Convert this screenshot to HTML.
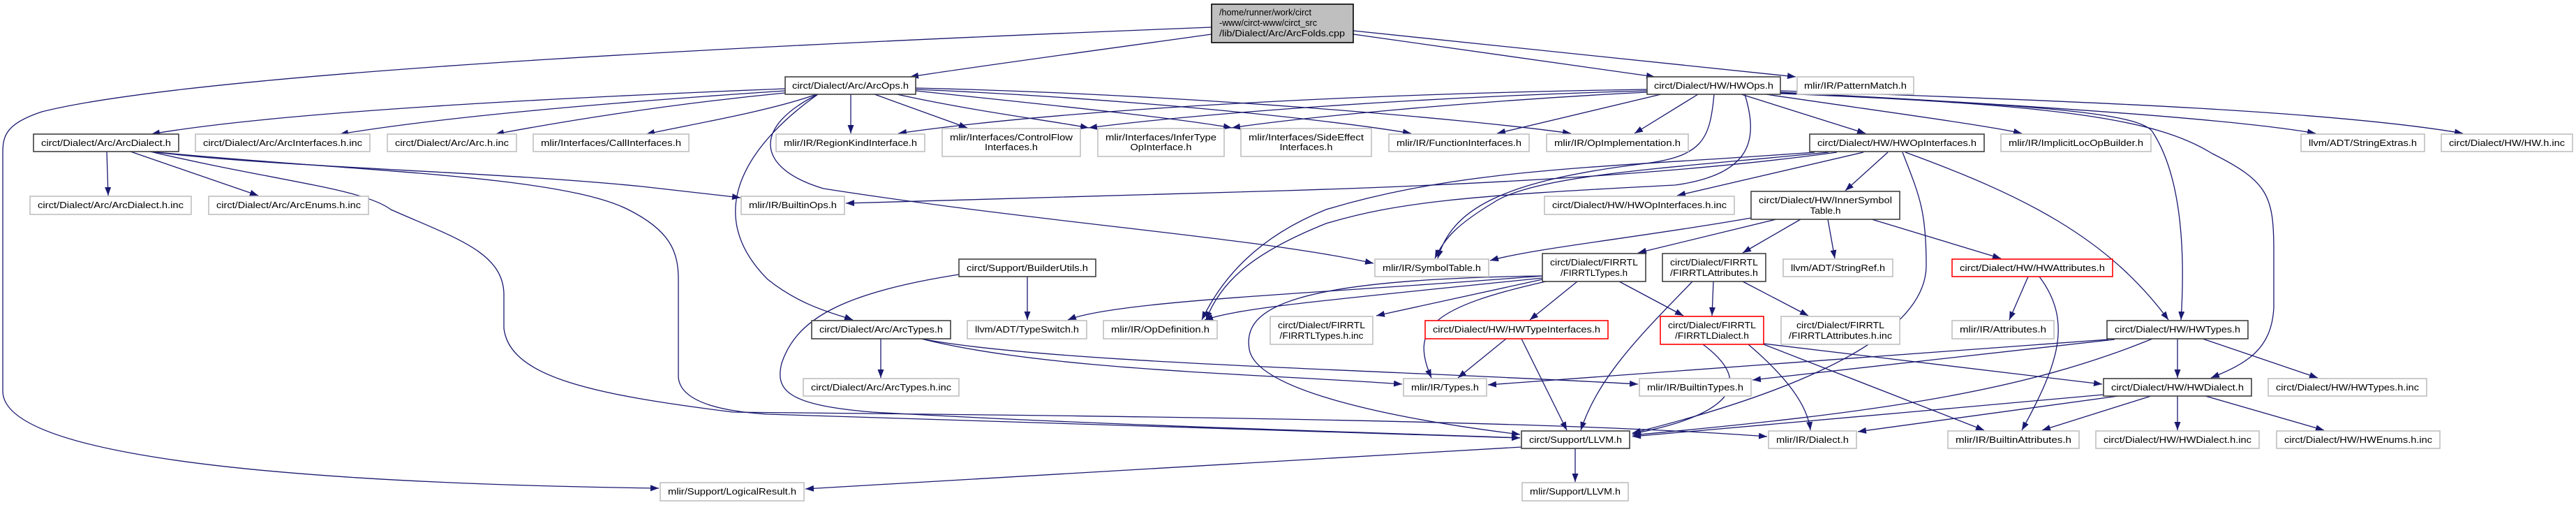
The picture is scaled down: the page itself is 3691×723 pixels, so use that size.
<!DOCTYPE html>
<html><head><meta charset="utf-8"><style>
html,body{margin:0;padding:0;background:#fff;}
svg{display:block;}
text{font-family:"Liberation Sans",sans-serif;font-size:13px;fill:#000;}
.e{fill:none;stroke:#191970;stroke-width:1.3;}
.b{fill:#fff;stroke:#404040;stroke-width:1.6;}
.g{fill:#fff;stroke:#bfbfbf;stroke-width:1.6;}
.r{fill:#fff;stroke:#ff0000;stroke-width:1.6;}
</style></head><body>
<svg width="3691" height="723" viewBox="0 0 3691 723" xmlns="http://www.w3.org/2000/svg">
<defs><marker id="a" markerUnits="userSpaceOnUse" markerWidth="13" markerHeight="9" refX="12" refY="4.5" orient="auto"><path d="M0,0 L12,4.5 L0,9 z" fill="#191970"/></marker></defs>
<g class="e" marker-end="url(#a)">
<path marker-end="url(#a)" d="M1736,49 C1550,75 1400,95 1304,110"/>
<path marker-end="url(#a)" d="M1939,49 C2100,72 2250,92 2371,110"/>
<path marker-end="url(#a)" d="M1939,44 C2200,70 2450,96 2573,110"/>
<path marker-end="url(#a)" d="M1736,39 C1200,60 300,100 60,160 C0,180 4,200 4,230 L4,560 C4,640 300,690 944,699"/>
<path marker-end="url(#a)" d="M1125,127 C800,140 400,160 217,192"/>
<path marker-end="url(#a)" d="M1125,130 C900,145 650,165 487,192"/>
<path marker-end="url(#a)" d="M1125,133 C950,150 800,175 710,192"/>
<path marker-end="url(#a)" d="M1170,135 C1100,160 980,180 926,192"/>
<path marker-end="url(#a)" d="M1219,135 L1219,191"/>
<path marker-end="url(#a)" d="M1253,135 L1386,183"/>
<path marker-end="url(#a)" d="M1285,135 C1400,160 1500,172 1560,183"/>
<path marker-end="url(#a)" d="M1312,130 C1500,150 1680,168 1765,183"/>
<path marker-end="url(#a)" d="M1312,128 C1600,140 1900,170 2022,191"/>
<path marker-end="url(#a)" d="M1312,126 C1700,135 2100,170 2251,191"/>
<path marker-end="url(#a)" d="M1172,135 C1080,180 1080,240 1180,270 C1500,320 1800,340 1968,377"/>
<path marker-end="url(#a)" d="M1172,135 C1080,200 1000,300 1100,400 C1150,440 1200,450 1222,458"/>
<path marker-end="url(#a)" d="M153,217 L155,280"/>
<path marker-end="url(#a)" d="M187,217 L370,280"/>
<path marker-end="url(#a)" d="M215,217 C400,240 700,245 920,267 L1061,283"/>
<path marker-end="url(#a)" d="M215,217 C500,245 800,250 900,300 C960,330 972,360 972,400 L972,540 C975,580 1050,590 1100,593 L2178,627"/>
<path marker-end="url(#a)" d="M215,217 C400,260 520,270 560,300 C650,340 720,360 722,420 L722,470 C730,540 850,565 1050,590 C1500,595 2200,600 2532,625"/>
<path marker-end="url(#a)" d="M2360,128 C1900,135 1500,160 1287,191"/>
<path marker-end="url(#a)" d="M2360,130 C2000,140 1700,165 1560,183"/>
<path marker-end="url(#a)" d="M2360,132 C2100,145 1850,170 1765,183"/>
<path marker-end="url(#a)" d="M2380,135 L2145,191"/>
<path marker-end="url(#a)" d="M2433,135 L2342,191"/>
<path marker-end="url(#a)" d="M2495,135 L2673,191"/>
<path marker-end="url(#a)" d="M2530,135 C2700,160 2850,180 2897,191"/>
<path marker-end="url(#a)" d="M2551,132 C2900,150 3200,170 3318,191"/>
<path marker-end="url(#a)" d="M2551,130 C3000,145 3350,160 3529,191"/>
<path marker-end="url(#a)" d="M2551,133 C2900,150 3070,160 3085,190 C3130,260 3130,380 3125,458"/>
<path marker-end="url(#a)" d="M2551,134 C2950,150 3090,170 3170,220 C3250,260 3258,280 3258,360 L3258,440 C3255,500 3220,520 3168,541"/>
<path marker-end="url(#a)" d="M2632,218 C2400,250 2100,265 1840,273 L1212,291"/>
<path marker-end="url(#a)" d="M2500,135 C2520,200 2510,250 2400,265 C2100,280 2000,290 1900,320 C1800,360 1750,400 1728,458"/>
<path marker-end="url(#a)" d="M2456,135 C2450,200 2440,225 2350,235 C2150,260 2080,300 2060,370"/>
<path marker-end="url(#a)" d="M2670,218 L2403,280"/>
<path marker-end="url(#a)" d="M2705,218 L2644,273"/>
<path marker-end="url(#a)" d="M2730,218 C2900,280 3020,340 3107,458"/>
<path marker-end="url(#a)" d="M2726,218 C2750,280 2760,300 2760,380 C2760,500 2500,580 2339,620"/>
<path marker-end="url(#a)" d="M2620,218 C2400,240 2200,250 2140,290 C2090,320 2070,340 2056,370"/>
<path marker-end="url(#a)" d="M2600,218 C2300,240 2100,240 1900,300 C1800,340 1750,400 1722,458"/>
<path marker-end="url(#a)" d="M2509,312 C2350,340 2200,355 2135,373"/>
<path marker-end="url(#a)" d="M2545,314 L2347,362"/>
<path marker-end="url(#a)" d="M2580,314 L2497,362"/>
<path marker-end="url(#a)" d="M2619,314 L2629,370"/>
<path marker-end="url(#a)" d="M2682,314 L2867,370"/>
<path marker-end="url(#a)" d="M2210,400 L1972,452"/>
<path marker-end="url(#a)" d="M2260,403 L2192,458"/>
<path marker-end="url(#a)" d="M2320,403 L2412,452"/>
<path marker-end="url(#a)" d="M2215,403 C2050,440 2020,470 2051,541"/>
<path marker-end="url(#a)" d="M2210,395 C1900,420 1600,430 1530,458"/>
<path marker-end="url(#a)" d="M2210,398 C1900,430 1780,440 1726,458"/>
<path marker-end="url(#a)" d="M2210,395 C1850,400 1780,440 1790,500 C1800,560 2000,600 2178,622"/>
<path marker-end="url(#a)" d="M2455,403 L2453,452"/>
<path marker-end="url(#a)" d="M2497,403 L2591,452"/>
<path marker-end="url(#a)" d="M2425,403 C2350,480 2290,540 2265,616"/>
<path marker-end="url(#a)" d="M2158,485 L2089,541"/>
<path marker-end="url(#a)" d="M2180,485 L2245,616"/>
<path marker-end="url(#a)" d="M2440,493 C2530,560 2450,600 2339,621"/>
<path marker-end="url(#a)" d="M2505,493 C2560,540 2590,580 2594,616"/>
<path marker-end="url(#a)" d="M2527,493 L2843,616"/>
<path marker-end="url(#a)" d="M2527,492 L3012,550"/>
<path marker-end="url(#a)" d="M2906,396 L2879,458"/>
<path marker-end="url(#a)" d="M2922,396 C2970,460 2950,520 2897,616"/>
<path marker-end="url(#a)" d="M3120,485 L3120,541"/>
<path marker-end="url(#a)" d="M3156,485 L3321,541"/>
<path marker-end="url(#a)" d="M3021,486 L2132,551"/>
<path marker-end="url(#a)" d="M3030,486 L2511,544"/>
<path marker-end="url(#a)" d="M3084,485 C2900,560 2700,590 2339,623"/>
<path marker-end="url(#a)" d="M3082,567 L2926,616"/>
<path marker-end="url(#a)" d="M3120,567 L3120,616"/>
<path marker-end="url(#a)" d="M3160,567 L3330,616"/>
<path marker-end="url(#a)" d="M3035,567 L2662,618"/>
<path marker-end="url(#a)" d="M3014,565 C2800,585 2500,610 2339,625"/>
<path marker-end="url(#a)" d="M2257,642 L2257,690"/>
<path marker-end="url(#a)" d="M2180,640 L1154,700"/>
<path marker-end="url(#a)" d="M1262,485 L1262,541"/>
<path marker-end="url(#a)" d="M1320,485 C1500,530 1800,535 2009,550"/>
<path marker-end="url(#a)" d="M1320,485 C1500,520 2000,530 2347,550"/>
<path marker-end="url(#a)" d="M1472,396 L1472,458"/>
<path marker-end="url(#a)" d="M1374,393 C1200,420 1140,460 1120,520 C1110,560 1130,580 1250,590 C1600,610 2000,620 2178,627"/>
</g>
<g>
<rect x="1736" y="6" width="203" height="55" fill="#bfbfbf" stroke="#000" stroke-width="1.6"/>
<text x="1747" y="22" textLength="132" lengthAdjust="spacingAndGlyphs">/home/runner/work/circt</text>
<text x="1747" y="37" textLength="140" lengthAdjust="spacingAndGlyphs">-www/circt-www/circt_src</text>
<text x="1747" y="52" textLength="180" lengthAdjust="spacingAndGlyphs">/lib/Dialect/Arc/ArcFolds.cpp</text>

<rect class="b" x="1125" y="110" width="187" height="25"/><text x="1218.5" y="127" text-anchor="middle" textLength="167" lengthAdjust="spacingAndGlyphs">circt/Dialect/Arc/ArcOps.h</text>
<rect class="b" x="2360" y="110" width="191" height="25"/><text x="2455.5" y="127" text-anchor="middle" textLength="171" lengthAdjust="spacingAndGlyphs">circt/Dialect/HW/HWOps.h</text>
<rect class="g" x="2575" y="110" width="167" height="25"/><text x="2658.5" y="127" text-anchor="middle" textLength="147" lengthAdjust="spacingAndGlyphs">mlir/IR/PatternMatch.h</text>

<rect class="b" x="48" y="192" width="208" height="25"/><text x="152" y="209" text-anchor="middle" textLength="186" lengthAdjust="spacingAndGlyphs">circt/Dialect/Arc/ArcDialect.h</text>
<rect class="g" x="280" y="192" width="250" height="25"/><text x="405" y="209" text-anchor="middle" textLength="228" lengthAdjust="spacingAndGlyphs">circt/Dialect/Arc/ArcInterfaces.h.inc</text>
<rect class="g" x="555" y="192" width="185" height="25"/><text x="647.5" y="209" text-anchor="middle" textLength="163" lengthAdjust="spacingAndGlyphs">circt/Dialect/Arc/Arc.h.inc</text>
<rect class="g" x="764" y="192" width="223" height="25"/><text x="875.5" y="209" text-anchor="middle" textLength="201" lengthAdjust="spacingAndGlyphs">mlir/Interfaces/CallInterfaces.h</text>
<rect class="g" x="1112" y="192" width="213" height="25"/><text x="1218.5" y="209" text-anchor="middle" textLength="191" lengthAdjust="spacingAndGlyphs">mlir/IR/RegionKindInterface.h</text>
<rect class="g" x="1350" y="184" width="198" height="40"/><text x="1449" y="201" text-anchor="middle" textLength="176" lengthAdjust="spacingAndGlyphs">mlir/Interfaces/ControlFlow</text><text x="1449" y="215" text-anchor="middle" textLength="76" lengthAdjust="spacingAndGlyphs">Interfaces.h</text>
<rect class="g" x="1573" y="184" width="181" height="40"/><text x="1663.5" y="201" text-anchor="middle" textLength="159" lengthAdjust="spacingAndGlyphs">mlir/Interfaces/InferType</text><text x="1663.5" y="215" text-anchor="middle" textLength="88" lengthAdjust="spacingAndGlyphs">OpInterface.h</text>
<rect class="g" x="1778" y="184" width="187" height="40"/><text x="1871.5" y="201" text-anchor="middle" textLength="165" lengthAdjust="spacingAndGlyphs">mlir/Interfaces/SideEffect</text><text x="1871.5" y="215" text-anchor="middle" textLength="76" lengthAdjust="spacingAndGlyphs">Interfaces.h</text>
<rect class="g" x="1990" y="192" width="201" height="25"/><text x="2090.5" y="209" text-anchor="middle" textLength="179" lengthAdjust="spacingAndGlyphs">mlir/IR/FunctionInterfaces.h</text>
<rect class="g" x="2216" y="192" width="203" height="25"/><text x="2317.5" y="209" text-anchor="middle" textLength="181" lengthAdjust="spacingAndGlyphs">mlir/IR/OpImplementation.h</text>
<rect class="b" x="2593" y="192" width="250" height="25"/><text x="2718" y="209" text-anchor="middle" textLength="228" lengthAdjust="spacingAndGlyphs">circt/Dialect/HW/HWOpInterfaces.h</text>
<rect class="g" x="2867" y="192" width="215" height="25"/><text x="2974.5" y="209" text-anchor="middle" textLength="193" lengthAdjust="spacingAndGlyphs">mlir/IR/ImplicitLocOpBuilder.h</text>
<rect class="g" x="3297" y="192" width="177" height="25"/><text x="3385.5" y="209" text-anchor="middle" textLength="155" lengthAdjust="spacingAndGlyphs">llvm/ADT/StringExtras.h</text>
<rect class="g" x="3498" y="192" width="188" height="25"/><text x="3592" y="209" text-anchor="middle" textLength="166" lengthAdjust="spacingAndGlyphs">circt/Dialect/HW/HW.h.inc</text>

<rect class="g" x="43" y="281" width="231" height="26"/><text x="158.5" y="298" text-anchor="middle" textLength="209" lengthAdjust="spacingAndGlyphs">circt/Dialect/Arc/ArcDialect.h.inc</text>
<rect class="g" x="299" y="281" width="229" height="26"/><text x="413.5" y="298" text-anchor="middle" textLength="207" lengthAdjust="spacingAndGlyphs">circt/Dialect/Arc/ArcEnums.h.inc</text>
<rect class="g" x="1062" y="281" width="148" height="26"/><text x="1136" y="298" text-anchor="middle" textLength="126" lengthAdjust="spacingAndGlyphs">mlir/IR/BuiltinOps.h</text>
<rect class="g" x="2213" y="281" width="272" height="26"/><text x="2349" y="298" text-anchor="middle" textLength="250" lengthAdjust="spacingAndGlyphs">circt/Dialect/HW/HWOpInterfaces.h.inc</text>
<rect class="b" x="2509" y="274" width="213" height="40"/><text x="2615.5" y="291" text-anchor="middle" textLength="191" lengthAdjust="spacingAndGlyphs">circt/Dialect/HW/InnerSymbol</text><text x="2615.5" y="306" text-anchor="middle" textLength="44" lengthAdjust="spacingAndGlyphs">Table.h</text>

<rect class="b" x="1374" y="371" width="196" height="25"/><text x="1472" y="388" text-anchor="middle" textLength="174" lengthAdjust="spacingAndGlyphs">circt/Support/BuilderUtils.h</text>
<rect class="g" x="1970" y="371" width="163" height="25"/><text x="2051.5" y="388" text-anchor="middle" textLength="141" lengthAdjust="spacingAndGlyphs">mlir/IR/SymbolTable.h</text>
<rect class="b" x="2210" y="363" width="148" height="40"/><text x="2284" y="380" text-anchor="middle" textLength="126" lengthAdjust="spacingAndGlyphs">circt/Dialect/FIRRTL</text><text x="2284" y="395" text-anchor="middle" textLength="96" lengthAdjust="spacingAndGlyphs">/FIRRTLTypes.h</text>
<rect class="b" x="2382" y="363" width="148" height="40"/><text x="2456" y="380" text-anchor="middle" textLength="126" lengthAdjust="spacingAndGlyphs">circt/Dialect/FIRRTL</text><text x="2456" y="395" text-anchor="middle" textLength="126" lengthAdjust="spacingAndGlyphs">/FIRRTLAttributes.h</text>
<rect class="g" x="2555" y="371" width="157" height="25"/><text x="2633.5" y="388" text-anchor="middle" textLength="135" lengthAdjust="spacingAndGlyphs">llvm/ADT/StringRef.h</text>
<rect class="r" x="2797" y="371" width="230" height="25"/><text x="2912" y="388" text-anchor="middle" textLength="208" lengthAdjust="spacingAndGlyphs">circt/Dialect/HW/HWAttributes.h</text>

<rect class="b" x="1163" y="459" width="199" height="26"/><text x="1262.5" y="476" text-anchor="middle" textLength="177" lengthAdjust="spacingAndGlyphs">circt/Dialect/Arc/ArcTypes.h</text>
<rect class="g" x="1386" y="459" width="171" height="26"/><text x="1471.5" y="476" text-anchor="middle" textLength="149" lengthAdjust="spacingAndGlyphs">llvm/ADT/TypeSwitch.h</text>
<rect class="g" x="1581" y="459" width="163" height="26"/><text x="1662.5" y="476" text-anchor="middle" textLength="141" lengthAdjust="spacingAndGlyphs">mlir/IR/OpDefinition.h</text>
<rect class="g" x="1820" y="453" width="147" height="40"/><text x="1893.5" y="470" text-anchor="middle" textLength="125" lengthAdjust="spacingAndGlyphs">circt/Dialect/FIRRTL</text><text x="1893.5" y="485" text-anchor="middle" textLength="120" lengthAdjust="spacingAndGlyphs">/FIRRTLTypes.h.inc</text>
<rect class="r" x="2042" y="459" width="262" height="26"/><text x="2173" y="476" text-anchor="middle" textLength="240" lengthAdjust="spacingAndGlyphs">circt/Dialect/HW/HWTypeInterfaces.h</text>
<rect class="r" x="2379" y="453" width="148" height="40"/><text x="2453" y="470" text-anchor="middle" textLength="126" lengthAdjust="spacingAndGlyphs">circt/Dialect/FIRRTL</text><text x="2453" y="485" text-anchor="middle" textLength="106" lengthAdjust="spacingAndGlyphs">/FIRRTLDialect.h</text>
<rect class="g" x="2552" y="453" width="170" height="40"/><text x="2637" y="470" text-anchor="middle" textLength="126" lengthAdjust="spacingAndGlyphs">circt/Dialect/FIRRTL</text><text x="2637" y="485" text-anchor="middle" textLength="148" lengthAdjust="spacingAndGlyphs">/FIRRTLAttributes.h.inc</text>
<rect class="g" x="2797" y="459" width="146" height="26"/><text x="2870" y="476" text-anchor="middle" textLength="124" lengthAdjust="spacingAndGlyphs">mlir/IR/Attributes.h</text>
<rect class="b" x="3019" y="459" width="202" height="26"/><text x="3120" y="476" text-anchor="middle" textLength="180" lengthAdjust="spacingAndGlyphs">circt/Dialect/HW/HWTypes.h</text>

<rect class="g" x="1151" y="542" width="223" height="25"/><text x="1262.5" y="559" text-anchor="middle" textLength="201" lengthAdjust="spacingAndGlyphs">circt/Dialect/Arc/ArcTypes.h.inc</text>
<rect class="g" x="2011" y="542" width="119" height="25"/><text x="2070.5" y="559" text-anchor="middle" textLength="97" lengthAdjust="spacingAndGlyphs">mlir/IR/Types.h</text>
<rect class="g" x="2349" y="542" width="160" height="25"/><text x="2429" y="559" text-anchor="middle" textLength="138" lengthAdjust="spacingAndGlyphs">mlir/IR/BuiltinTypes.h</text>
<rect class="b" x="3014" y="542" width="212" height="25"/><text x="3120" y="559" text-anchor="middle" textLength="190" lengthAdjust="spacingAndGlyphs">circt/Dialect/HW/HWDialect.h</text>
<rect class="g" x="3250" y="542" width="227" height="25"/><text x="3363.5" y="559" text-anchor="middle" textLength="205" lengthAdjust="spacingAndGlyphs">circt/Dialect/HW/HWTypes.h.inc</text>

<rect class="b" x="2180" y="617" width="155" height="25"/><text x="2257.5" y="634" text-anchor="middle" textLength="133" lengthAdjust="spacingAndGlyphs">circt/Support/LLVM.h</text>
<rect class="g" x="2534" y="617" width="126" height="25"/><text x="2597" y="634" text-anchor="middle" textLength="104" lengthAdjust="spacingAndGlyphs">mlir/IR/Dialect.h</text>
<rect class="g" x="2791" y="617" width="188" height="25"/><text x="2885" y="634" text-anchor="middle" textLength="166" lengthAdjust="spacingAndGlyphs">mlir/IR/BuiltinAttributes.h</text>
<rect class="g" x="3003" y="617" width="234" height="25"/><text x="3120" y="634" text-anchor="middle" textLength="212" lengthAdjust="spacingAndGlyphs">circt/Dialect/HW/HWDialect.h.inc</text>
<rect class="g" x="3262" y="617" width="234" height="25"/><text x="3379" y="634" text-anchor="middle" textLength="212" lengthAdjust="spacingAndGlyphs">circt/Dialect/HW/HWEnums.h.inc</text>

<rect class="g" x="2181" y="691" width="152" height="26"/><text x="2257" y="708" text-anchor="middle" textLength="130" lengthAdjust="spacingAndGlyphs">mlir/Support/LLVM.h</text>
<rect class="g" x="946" y="691" width="206" height="26"/><text x="1049" y="708" text-anchor="middle" textLength="184" lengthAdjust="spacingAndGlyphs">mlir/Support/LogicalResult.h</text>
</g>
</svg>
</body></html>
